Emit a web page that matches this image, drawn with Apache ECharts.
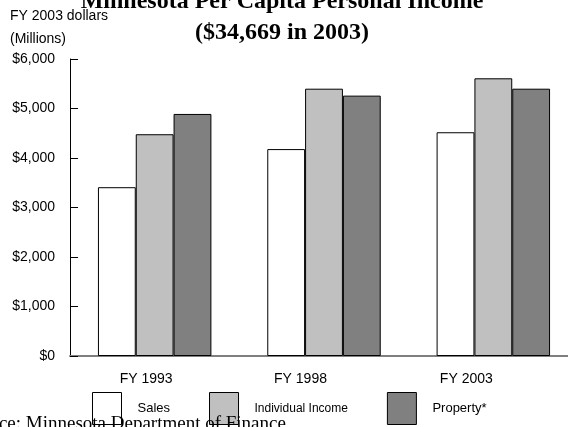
<!DOCTYPE html>
<html>
<head>
<meta charset="utf-8">
<script src="https://cdn.jsdelivr.net/npm/echarts@6/dist/echarts.min.js"></script>
<style>
html,body{margin:0;padding:0;background:#fff;overflow:hidden;}
#chart{width:578px;height:427px;}
</style>
</head>
<body>
<div id="chart"></div>
<script>
const categories = ['FY 1993', 'FY 1998', 'FY 2003'];
const salesValues = [3410, 4180, 4520];
const incomeValues = [4480, 5400, 5610];
const propertyValues = [4890, 5260, 5400];
const seriesNames = ['Sales', 'Individual Income', 'Property*'];
const yTicks = { min: 0, max: 6000, interval: 1000 };
const titleText = 'Minnesota Per Capita Personal Income\n($34,669 in 2003)';
const axisNameText = 'FY 2003 dollars\n(Millions)';
const sourceText = 'Source: Minnesota Department of Finance';

const SANS = "'Liberation Sans', Arial, sans-serif";
const SERIF = "'Liberation Serif', 'Times New Roman', serif";
const labelShift = [17, 47, 54];

const chart = echarts.init(document.getElementById('chart'), null, { renderer: 'canvas' });
const barStyle = (color) => ({ color: color, borderColor: '#000', borderWidth: 1 });

chart.setOption({
  animation: false,
  backgroundColor: '#fff',
  title: {
    text: titleText,
    left: 282, top: -14, padding: 0,
    textAlign: 'center',
    textStyle: { fontFamily: SERIF, fontWeight: 'bold', fontSize: 24, lineHeight: 31, color: '#000' }
  },
  grid: { left: 70, right: 0, top: 59, bottom: 71, containLabel: false },
  legend: {
    left: 92, top: 392, orient: 'horizontal', padding: 0,
    itemWidth: 29, itemHeight: 32, itemGap: 39,
    icon: 'rect',
    itemStyle: { borderColor: '#000', borderWidth: 1 },
    textStyle: { fontFamily: SANS, fontSize: 13, color: '#000', padding: [10, 0, 0, 11] },
    data: [
      { name: seriesNames[0] },
      { name: seriesNames[1], textStyle: { fontSize: 12, padding: [10, 0, 0, 11] } },
      { name: seriesNames[2], textStyle: { padding: [2, 0, 0, 11] } }
    ]
  },
  xAxis: {
    type: 'category',
    data: categories,
    axisLine: { lineStyle: { color: '#808080', width: 2 } },
    axisTick: { show: false },
    axisLabel: {
      margin: 16,
      fontFamily: SANS, fontSize: 14, color: '#000',
      formatter: (v) => '{c' + categories.indexOf(v) + '|' + v + '}',
      rich: {
        c0: { fontFamily: SANS, fontSize: 14, color: '#000', padding: [0, labelShift[0], 0, 0] },
        c1: { fontFamily: SANS, fontSize: 14, color: '#000', padding: [0, labelShift[1], 0, 0] },
        c2: { fontFamily: SANS, fontSize: 14, color: '#000', padding: [0, labelShift[2], 0, 0] }
      }
    }
  },
  yAxis: {
    type: 'value',
    min: yTicks.min, max: yTicks.max, interval: yTicks.interval,
    axisLine: { show: true, lineStyle: { color: '#000', width: 1 } },
    axisTick: { show: true, inside: true, length: 8, lineStyle: { color: '#000', width: 1 } },
    splitLine: { show: false },
    axisLabel: {
      margin: 15,
      fontFamily: SANS, fontSize: 14, color: '#000',
      formatter: (v) => '$' + v.toLocaleString('en-US')
    }
  },
  series: [
    { name: seriesNames[0], type: 'bar', data: salesValues, barGap: '0%', barCategoryGap: '33%', itemStyle: barStyle('#ffffff') },
    { name: seriesNames[1], type: 'bar', data: incomeValues, barGap: '0%', barCategoryGap: '33%', itemStyle: barStyle('#c0c0c0') },
    { name: seriesNames[2], type: 'bar', data: propertyValues, barGap: '0%', barCategoryGap: '33%', itemStyle: barStyle('#808080') }
  ],
  graphic: [
    {
      type: 'text', left: 10, top: 5, z: 5,
      style: { text: axisNameText, font: '14px ' + SANS, lineHeight: 23, fill: '#000' }
    },
    {
      type: 'text', left: -37, top: 415, z: 100,
      style: { text: sourceText, font: '19px ' + SERIF, fill: '#000' }
    }
  ]
});
</script>
</body>
</html>
